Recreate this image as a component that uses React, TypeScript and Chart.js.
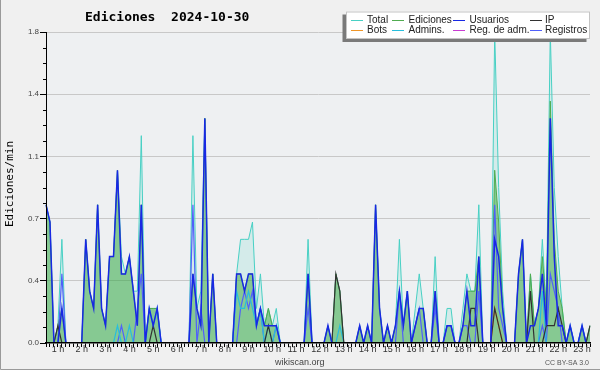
import React, { useEffect, useRef } from 'react';
import { Chart, registerables } from 'chart.js';

Chart.register(...registerables);

const TITLE = 'Ediciones  2024-10-30';
const Y_TITLE = 'Ediciones/min';
const FOOTER_LEFT = 'wikiscan.org';
const FOOTER_RIGHT = 'CC BY-SA 3.0';

// time axis: one point every 10 minutes from 0:30 to 23:20
const START_MIN = 30;
const STEP_MIN = 10;
const POINTS = 138;
const timeLabels: string[] = Array.from({ length: POINTS }, (_, i) => {
  const m = START_MIN + STEP_MIN * i;
  return `${Math.floor(m / 60)}:${String(m % 60).padStart(2, '0')}`;
});

const Y_MAX = 1.8;
const Y_MINOR_STEP = 0.09;
const Y_MAJOR_EVERY = 4;

// values (edits per minute), rows of 6 = one hour each, starting 0:30
const total = [
  0.8, 0.7, 0, 0.1, 0.6, 0,
  0, 0, 0, 0, 0.6, 0.3,
  0.2, 0.8, 0.2, 0.1, 0.5, 0.5,
  1.0, 0.5, 0.4, 0.5, 0.3, 0.3,
  1.2, 0, 0.2, 0.2, 0.2, 0,
  0, 0, 0, 0, 0, 0,
  0, 1.2, 0.2, 0.3, 1.3, 0,
  0.4, 0, 0, 0, 0, 0,
  0.4, 0.6, 0.6, 0.6, 0.7, 0.2,
  0.4, 0.1, 0.2, 0.1, 0.2, 0,
  0, 0, 0, 0, 0, 0,
  0.6, 0, 0, 0, 0, 0.1,
  0, 0.4, 0.3, 0, 0, 0,
  0, 0.1, 0, 0.1, 0, 0.8,
  0.2, 0, 0.1, 0, 0.1, 0.6,
  0.1, 0.3, 0, 0.2, 0.4, 0.2,
  0, 0, 0.5, 0, 0, 0.2,
  0.2, 0, 0, 0.2, 0.4, 0.3,
  0.3, 0.8, 0, 0, 0, 1.8,
  0.9, 0.3, 0, 0, 0, 0.4,
  0.6, 0, 0.4, 0.1, 0.2, 0.6,
  0.2, 1.8, 0.9, 0.5, 0.2, 0,
  0.1, 0, 0, 0.1, 0, 0.1,
];

const ediciones = [
  0.8, 0.7, 0, 0.1, 0.2, 0,
  0, 0, 0, 0, 0.6, 0.3,
  0.2, 0.8, 0.2, 0.1, 0.5, 0.5,
  1.0, 0.4, 0.4, 0.5, 0.3, 0.1,
  0.8, 0, 0.2, 0.2, 0.2, 0,
  0, 0, 0, 0, 0, 0,
  0, 0.4, 0.2, 0.1, 1.3, 0,
  0.4, 0, 0, 0, 0, 0,
  0.4, 0.4, 0.3, 0.4, 0.4, 0.1,
  0.2, 0.1, 0.2, 0.1, 0.1, 0,
  0, 0, 0, 0, 0, 0,
  0.4, 0, 0, 0, 0, 0.1,
  0, 0.4, 0.3, 0, 0, 0,
  0, 0.1, 0, 0.1, 0, 0.8,
  0.2, 0, 0.1, 0, 0.1, 0.3,
  0.1, 0.3, 0, 0.1, 0.2, 0.2,
  0, 0, 0.3, 0, 0, 0.1,
  0.1, 0, 0, 0.1, 0.3, 0.3,
  0.3, 0.5, 0, 0, 0, 1.0,
  0.7, 0.2, 0, 0, 0, 0.4,
  0.6, 0, 0.4, 0.1, 0.2, 0.5,
  0.2, 1.4, 0.6, 0.3, 0.2, 0,
  0.1, 0, 0, 0.1, 0, 0.1,
];

const usuarios = [
  0.8, 0.7, 0, 0, 0.2, 0,
  0, 0, 0, 0, 0.6, 0.3,
  0.2, 0.8, 0.2, 0.1, 0.5, 0.5,
  1.0, 0.4, 0.4, 0.5, 0.3, 0.1,
  0.8, 0, 0.2, 0.1, 0.2, 0,
  0, 0, 0, 0, 0, 0,
  0, 0.4, 0.2, 0.1, 1.3, 0,
  0.4, 0, 0, 0, 0, 0,
  0.4, 0.4, 0.3, 0.4, 0.4, 0.1,
  0.2, 0.1, 0.1, 0.1, 0.1, 0,
  0, 0, 0, 0, 0, 0,
  0.4, 0, 0, 0, 0, 0.1,
  0, 0, 0, 0, 0, 0,
  0, 0.1, 0, 0.1, 0, 0.8,
  0.2, 0, 0.1, 0, 0.1, 0.3,
  0.1, 0.3, 0, 0.1, 0.2, 0.2,
  0, 0, 0.3, 0, 0, 0.1,
  0.1, 0, 0, 0.1, 0.3, 0.1,
  0.1, 0.5, 0, 0, 0, 0.6,
  0.5, 0.2, 0, 0, 0, 0.4,
  0.6, 0, 0.1, 0.1, 0.2, 0.4,
  0.1, 1.3, 0.5, 0.1, 0.1, 0,
  0.1, 0, 0, 0.1, 0, 0,
];

const ip = [
  0, 0, 0, 0.1, 0, 0,
  0, 0, 0, 0, 0, 0,
  0, 0, 0, 0, 0, 0,
  0, 0, 0, 0, 0, 0,
  0, 0, 0, 0.1, 0, 0,
  0, 0, 0, 0, 0, 0,
  0, 0, 0, 0, 0, 0,
  0, 0, 0, 0, 0, 0,
  0, 0, 0, 0, 0, 0,
  0, 0, 0.1, 0, 0, 0,
  0, 0, 0, 0, 0, 0,
  0, 0, 0, 0, 0, 0,
  0, 0.4, 0.3, 0, 0, 0,
  0, 0, 0, 0, 0, 0,
  0, 0, 0, 0, 0, 0,
  0, 0, 0, 0, 0, 0,
  0, 0, 0, 0, 0, 0,
  0, 0, 0, 0, 0, 0.2,
  0.2, 0, 0, 0, 0, 0.2,
  0.1, 0, 0, 0, 0, 0,
  0, 0, 0.3, 0, 0, 0,
  0.1, 0.1, 0.1, 0.2, 0.1, 0,
  0, 0, 0, 0, 0, 0.1,
];

const bots = [
  0, 0, 0, 0, 0, 0,
  0, 0, 0, 0, 0, 0,
  0, 0, 0, 0, 0, 0,
  0, 0, 0, 0, 0, 0,
  0, 0, 0, 0, 0, 0,
  0, 0, 0, 0, 0, 0,
  0, 0, 0, 0, 0, 0,
  0, 0, 0, 0, 0, 0,
  0, 0, 0, 0, 0, 0,
  0, 0, 0, 0, 0, 0,
  0, 0, 0, 0, 0, 0,
  0, 0, 0, 0, 0, 0,
  0, 0, 0, 0, 0, 0,
  0, 0, 0, 0, 0, 0,
  0, 0, 0, 0, 0, 0,
  0, 0, 0, 0, 0, 0,
  0, 0, 0, 0, 0, 0,
  0, 0, 0, 0, 0, 0,
  0, 0, 0, 0, 0, 0.2,
  0.1, 0, 0, 0, 0, 0,
  0, 0, 0, 0, 0, 0,
  0, 0, 0, 0, 0, 0,
  0, 0, 0, 0, 0, 0,
];

const admins = [
  0, 0, 0, 0, 0, 0,
  0, 0, 0, 0, 0, 0,
  0, 0, 0, 0, 0, 0,
  0.1, 0, 0, 0.1, 0, 0,
  0, 0, 0.2, 0.1, 0.2, 0,
  0, 0, 0, 0, 0, 0,
  0, 0, 0, 0, 0, 0,
  0, 0, 0, 0, 0, 0,
  0.3, 0.2, 0.2, 0.3, 0.2, 0.1,
  0.2, 0, 0.1, 0, 0.1, 0,
  0, 0, 0, 0, 0, 0,
  0, 0, 0, 0, 0, 0,
  0, 0, 0.1, 0, 0, 0,
  0, 0, 0, 0, 0, 0,
  0, 0, 0, 0, 0, 0,
  0, 0, 0, 0, 0, 0,
  0, 0, 0, 0, 0, 0,
  0, 0, 0, 0, 0, 0,
  0, 0, 0, 0, 0, 0,
  0, 0, 0, 0, 0, 0,
  0, 0, 0, 0, 0, 0.3,
  0, 0, 0, 0, 0, 0,
  0.1, 0, 0, 0.1, 0, 0,
];

const regAdm = [
  0, 0, 0, 0, 0, 0,
  0, 0, 0, 0, 0, 0,
  0, 0, 0, 0, 0, 0,
  0, 0, 0, 0, 0, 0,
  0, 0, 0, 0, 0, 0,
  0, 0, 0, 0, 0, 0,
  0, 0, 0, 0, 0, 0,
  0, 0, 0, 0, 0, 0,
  0, 0, 0, 0, 0, 0,
  0, 0, 0, 0, 0, 0,
  0, 0, 0, 0, 0, 0,
  0, 0, 0, 0, 0, 0,
  0, 0, 0, 0, 0, 0,
  0, 0, 0, 0, 0, 0,
  0, 0, 0, 0, 0, 0,
  0, 0, 0, 0, 0, 0,
  0, 0, 0, 0, 0, 0,
  0, 0, 0, 0, 0, 0,
  0, 0, 0, 0, 0, 0,
  0, 0, 0, 0, 0, 0,
  0, 0, 0, 0, 0, 0,
  0, 0, 0, 0, 0, 0,
  0, 0, 0, 0, 0, 0,
];

const registros = [
  0, 0, 0, 0, 0.4, 0,
  0, 0, 0, 0, 0, 0,
  0, 0, 0, 0, 0, 0,
  0, 0.1, 0, 0, 0, 0.2,
  0.4, 0, 0, 0, 0, 0,
  0, 0, 0, 0, 0, 0,
  0, 0.8, 0, 0.2, 0, 0,
  0, 0, 0, 0, 0, 0,
  0, 0.2, 0.3, 0.2, 0.3, 0.1,
  0.2, 0, 0, 0, 0.1, 0,
  0, 0, 0, 0, 0, 0,
  0.2, 0, 0, 0, 0, 0,
  0, 0, 0, 0, 0, 0,
  0, 0, 0, 0, 0, 0,
  0, 0, 0, 0, 0, 0.3,
  0, 0, 0, 0.1, 0.2, 0,
  0, 0, 0.2, 0, 0, 0.1,
  0.1, 0, 0, 0.1, 0.1, 0,
  0, 0.3, 0, 0, 0, 0.8,
  0.2, 0.1, 0, 0, 0, 0,
  0, 0, 0, 0, 0, 0.1,
  0, 0.4, 0.3, 0.2, 0, 0,
  0, 0, 0, 0, 0, 0,
];

const SERIES = [
  { label: 'Total', data: total, color: 'rgb(72,208,196)', width: 1, fill: 'rgba(64,208,190,0.15)', order: 10 },
  { label: 'Ediciones', data: ediciones, color: 'rgb(80,172,80)', width: 1, fill: 'rgba(40,160,40,0.45)', order: 9 },
  { label: 'Usuarios', data: usuarios, color: 'rgb(24,40,228)', width: 1.5, fill: null, order: 0 },
  { label: 'IP', data: ip, color: 'rgb(50,50,50)', width: 1.2, fill: null, order: 1 },
  { label: 'Bots', data: bots, color: 'rgb(240,150,40)', width: 1.2, fill: null, order: 2 },
  { label: 'Admins.', data: admins, color: 'rgb(40,190,220)', width: 1.2, fill: null, order: 4 },
  { label: 'Reg. de adm.', data: regAdm, color: 'rgb(200,60,210)', width: 1.2, fill: null, order: 3 },
  { label: 'Registros', data: registros, color: 'rgb(80,96,250)', width: 1.2, fill: null, order: 5 },
];

const SANS = '"Liberation Sans", "DejaVu Sans", sans-serif';
const MONO = '"DejaVu Sans Mono", monospace';

const hourTick = (i: number) => {
  const m = START_MIN + STEP_MIN * i;
  return m % 60 === 0 ? `${m / 60} h` : '';
};

const backgroundPlugin = {
  id: 'bg',
  beforeDraw(chart: any) {
    const { ctx, chartArea: a } = chart;
    ctx.save();
    ctx.fillStyle = '#f0f0f0';
    ctx.fillRect(0, 0, chart.width, chart.height);
    ctx.fillStyle = '#eef0f2';
    ctx.fillRect(a.left, a.top, a.right - a.left, a.bottom - a.top);
    ctx.restore();
  },
};

const decorPlugin = {
  id: 'decor',
  afterDraw(chart: any) {
    const { ctx } = chart;
    const ys = chart.scales.y;
    ctx.save();
    // minor y ticks
    ctx.strokeStyle = '#000';
    ctx.lineWidth = 1;
    ctx.beginPath();
    const n = Math.round(Y_MAX / Y_MINOR_STEP);
    for (let k = 1; k < n; k++) {
      if (k % Y_MAJOR_EVERY === 0) continue;
      const py = Math.round(ys.getPixelForValue(k * Y_MINOR_STEP)) + 0.5;
      ctx.moveTo(ys.right - 3, py);
      ctx.lineTo(ys.right, py);
    }
    ctx.stroke();

    // title
    ctx.fillStyle = '#000';
    ctx.font = `bold 13px ${MONO}`;
    ctx.textAlign = 'left';
    ctx.textBaseline = 'alphabetic';
    ctx.fillText(TITLE, 85, 21);

    // y title
    ctx.save();
    ctx.translate(10, 184);
    ctx.rotate(-Math.PI / 2);
    ctx.font = `11px ${MONO}`;
    ctx.textAlign = 'center';
    ctx.textBaseline = 'middle';
    ctx.fillText(Y_TITLE, 0, 0);
    ctx.restore();

    // legend box
    const bx = 346, by = 11.5, bw = 244, bh = 27.5;
    ctx.fillStyle = '#7a7a7a';
    ctx.fillRect(bx - 3.5, by + 3, bw, bh);
    ctx.fillStyle = '#ffffff';
    ctx.fillRect(bx, by, bw, bh);
    ctx.strokeStyle = '#c4c4c4';
    ctx.strokeRect(bx + 0.5, by + 0.5, bw - 1, bh - 1);
    const colLine = [351, 392, 453, 530];
    const colText = [367, 408.5, 469.5, 545];
    const rowBase = [23, 33];
    ctx.font = `10px ${SANS}`;
    ctx.textBaseline = 'alphabetic';
    SERIES.forEach((s, idx) => {
      const r = Math.floor(idx / 4), c = idx % 4;
      const ly = rowBase[r] - 2.5;
      ctx.strokeStyle = s.color;
      ctx.lineWidth = 1;
      ctx.beginPath();
      ctx.moveTo(colLine[c], ly);
      ctx.lineTo(colLine[c] + 12, ly);
      ctx.stroke();
      ctx.fillStyle = '#222';
      ctx.fillText(s.label, colText[c], rowBase[r]);
    });

    // footers
    ctx.fillStyle = '#444';
    ctx.font = `9px ${SANS}`;
    ctx.textAlign = 'left';
    ctx.fillText(FOOTER_LEFT, 275, 365);
    ctx.fillStyle = '#555';
    ctx.font = `7px ${SANS}`;
    ctx.textAlign = 'right';
    ctx.fillText(FOOTER_RIGHT, 589, 365);

    // frame
    ctx.strokeStyle = '#9a9a9a';
    ctx.lineWidth = 1;
    ctx.beginPath();
    ctx.moveTo(0.5, 0);
    ctx.lineTo(0.5, chart.height - 0.5);
    ctx.lineTo(chart.width, chart.height - 0.5);
    ctx.stroke();
    ctx.restore();
  },
};

export default function App() {
  const ref = useRef<HTMLCanvasElement | null>(null);
  useEffect(() => {
    document.body.style.margin = '0';
    const canvas = ref.current;
    if (!canvas) return;
    const chart = new Chart(canvas, {
      type: 'line',
      data: {
        labels: timeLabels,
        datasets: SERIES.map((s) => ({
          label: s.label,
          data: s.data,
          borderColor: s.color,
          borderWidth: s.width,
          backgroundColor: s.fill || 'transparent',
          fill: s.fill ? 'origin' : false,
          order: s.order,
          pointRadius: 0,
          tension: 0,
        })),
      },
      options: {
        animation: false,
        responsive: false,
        layout: { padding: { top: 32, right: 10, left: 0, bottom: 0 } },
        plugins: {
          legend: { display: false },
          title: { display: false },
          tooltip: { enabled: false },
        },
        scales: {
          x: {
            type: 'category',
            offset: false,
            border: { display: true, color: '#000', width: 1.5, z: 1 },
            grid: { drawOnChartArea: false, drawTicks: true, tickLength: 4, tickColor: '#000', lineWidth: 1 },
            ticks: {
              autoSkip: false,
              maxRotation: 0,
              minRotation: 0,
              padding: -3,
              color: '#333',
              font: { family: SANS, size: 9 },
              callback: (_v: any, i: number) => hourTick(i),
            },
            afterFit: (s: any) => { s.height = 27; },
          },
          y: {
            min: 0,
            max: Y_MAX,
            border: { display: true, color: '#000', width: 1, z: 1 },
            grid: {
              color: (c: any) => (c.index % Y_MAJOR_EVERY === 0 && c.index > 0 ? '#c8c8c8' : 'rgba(0,0,0,0)'),
              tickColor: (c: any) => (c.index % Y_MAJOR_EVERY === 0 ? '#000' : 'rgba(0,0,0,0)'),
              tickLength: 6,
              drawTicks: true,
            },
            ticks: {
              stepSize: Y_MINOR_STEP,
              autoSkip: false,
              padding: 1,
              color: '#444',
              font: { family: SANS, size: 8 },
              callback: (v: any, i: number) => (i % Y_MAJOR_EVERY === 0 ? Number(v).toFixed(1) : ''),
            },
            afterFit: (s: any) => { s.width = 46; },
          },
        },
      },
      plugins: [backgroundPlugin, decorPlugin],
    } as any);
    return () => chart.destroy();
  }, []);
  return <canvas ref={ref} width={600} height={370} style={{ display: 'block' }} />;
}
